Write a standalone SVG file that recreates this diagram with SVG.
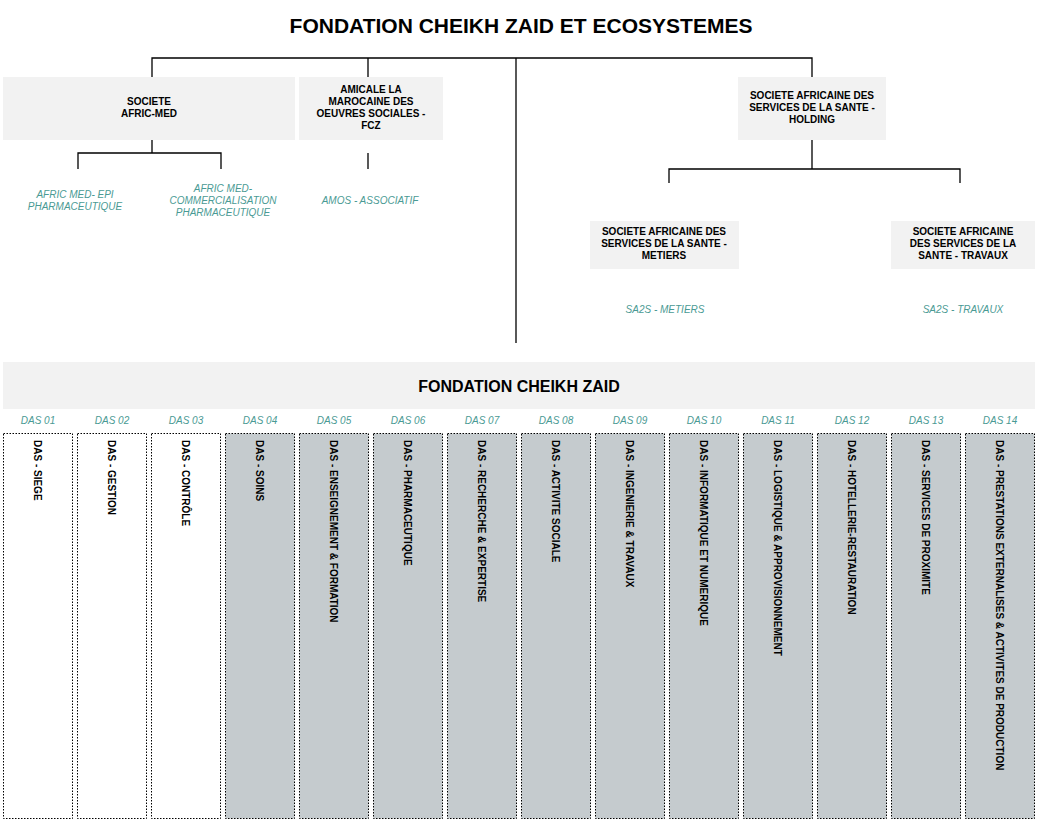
<svg xmlns="http://www.w3.org/2000/svg" width="1041" height="825" viewBox="0 0 1041 825">
<style>
.box{fill:#f2f2f2}
.bt{font-family:"Liberation Sans",Arial,sans-serif;font-size:10px;font-weight:bold;text-anchor:middle;fill:#000}
.it{font-family:"Liberation Sans",Arial,sans-serif;font-size:10px;font-style:italic;text-anchor:middle;fill:#4a9a94}
.ln{stroke:#000;stroke-width:1.3;fill:none}
.col{stroke:#000;stroke-width:1;stroke-dasharray:1.5,1.5}
.w{fill:#fff}.g{fill:#c5cbce}
.vt{font-family:"Liberation Sans",Arial,sans-serif;font-size:10px;font-weight:bold;fill:#000}
</style>
<rect width="1041" height="825" fill="#fff"/>
<text x="521" y="33" font-family="Liberation Sans,Arial,sans-serif" font-size="21" font-weight="bold" text-anchor="middle">FONDATION CHEIKH ZAID ET ECOSYSTEMES</text>
<g id="connectors">
<path class="ln" d="M152 77V58H812V77M368 58V77M516 58V343"/>
<path class="ln" d="M152 140V153M78 169V153H221V169M368 153V169"/>
<path class="ln" d="M812 140V169M669 183V169H960V183"/>
</g>
<g id="africmed"><rect class="box" x="3" y="77" width="292" height="63"/><text class="bt" x="149" y="105">SOCIETE</text><text class="bt" x="149" y="117">AFRIC-MED</text></g>
<g id="amicale"><rect class="box" x="299" y="77" width="144" height="63"/><text class="bt" x="371" y="93">AMICALE LA</text><text class="bt" x="371" y="105">MAROCAINE DES</text><text class="bt" x="371" y="117">OEUVRES SOCIALES -</text><text class="bt" x="371" y="129">FCZ</text></g>
<g id="holding"><rect class="box" x="738" y="77" width="148" height="63"/><text class="bt" x="812" y="99">SOCIETE AFRICAINE DES</text><text class="bt" x="812" y="111">SERVICES DE LA SANTE -</text><text class="bt" x="812" y="123">HOLDING</text></g>
<g id="metiers"><rect class="box" x="590" y="221" width="149" height="48"/><text class="bt" x="664" y="235">SOCIETE AFRICAINE DES</text><text class="bt" x="664" y="247">SERVICES DE LA SANTE -</text><text class="bt" x="664" y="259">METIERS</text></g>
<g id="travaux"><rect class="box" x="891" y="221" width="144" height="48"/><text class="bt" x="963" y="235">SOCIETE AFRICAINE</text><text class="bt" x="963" y="247">DES SERVICES DE LA</text><text class="bt" x="963" y="259">SANTE - TRAVAUX</text></g>
<g id="subs">
<text class="it" x="75" y="198">AFRIC MED- EPI</text><text class="it" x="75" y="210">PHARMACEUTIQUE</text>
<text class="it" x="223" y="192">AFRIC MED-</text><text class="it" x="223" y="204">COMMERCIALISATION</text><text class="it" x="223" y="216">PHARMACEUTIQUE</text>
<text class="it" x="370" y="204">AMOS - ASSOCIATIF</text>
<text class="it" x="665" y="313">SA2S - METIERS</text>
<text class="it" x="963" y="313">SA2S - TRAVAUX</text>
</g>
<g id="fcz"><rect class="box" x="3" y="362" width="1032" height="47"/><text x="519" y="392" font-family="Liberation Sans,Arial,sans-serif" font-size="16" font-weight="bold" text-anchor="middle">FONDATION CHEIKH ZAID</text></g>
<g id="das">
<rect class="col w" x="3.5" y="433.5" width="69" height="385"/>
<rect class="col w" x="77.5" y="433.5" width="69" height="385"/>
<rect class="col w" x="151.5" y="433.5" width="69" height="385"/>
<rect class="col g" x="225.5" y="433.5" width="69" height="385"/>
<rect class="col g" x="299.5" y="433.5" width="69" height="385"/>
<rect class="col g" x="373.5" y="433.5" width="69" height="385"/>
<rect class="col g" x="447.5" y="433.5" width="69" height="385"/>
<rect class="col g" x="521.5" y="433.5" width="69" height="385"/>
<rect class="col g" x="595.5" y="433.5" width="69" height="385"/>
<rect class="col g" x="669.5" y="433.5" width="69" height="385"/>
<rect class="col g" x="743.5" y="433.5" width="69" height="385"/>
<rect class="col g" x="817.5" y="433.5" width="69" height="385"/>
<rect class="col g" x="891.5" y="433.5" width="69" height="385"/>
<rect class="col g" x="965.5" y="433.5" width="69" height="385"/>
<g class="it">
<text x="38" y="424">DAS 01</text><text x="112" y="424">DAS 02</text><text x="186" y="424">DAS 03</text><text x="260" y="424">DAS 04</text><text x="334" y="424">DAS 05</text><text x="408" y="424">DAS 06</text><text x="482" y="424">DAS 07</text><text x="556" y="424">DAS 08</text><text x="630" y="424">DAS 09</text><text x="704" y="424">DAS 10</text><text x="778" y="424">DAS 11</text><text x="852" y="424">DAS 12</text><text x="926" y="424">DAS 13</text><text x="1000" y="424">DAS 14</text>
</g>
<text class="vt" transform="translate(34,440) rotate(90)">DAS - SIEGE</text>
<text class="vt" transform="translate(108,440) rotate(90)">DAS - GESTION</text>
<text class="vt" transform="translate(182,440) rotate(90)">DAS - CONTRÔLE</text>
<text class="vt" transform="translate(256,440) rotate(90)">DAS - SOINS</text>
<text class="vt" transform="translate(330,440) rotate(90)">DAS - ENSEIGNEMENT &amp; FORMATION</text>
<text class="vt" transform="translate(404,440) rotate(90)">DAS - PHARMACEUTIQUE</text>
<text class="vt" transform="translate(478,440) rotate(90)">DAS - RECHERCHE &amp; EXPERTISE</text>
<text class="vt" transform="translate(552,440) rotate(90)">DAS - ACTIVITE SOCIALE</text>
<text class="vt" transform="translate(626,440) rotate(90)">DAS - INGENIERIE &amp; TRAVAUX</text>
<text class="vt" transform="translate(700,440) rotate(90)">DAS - INFORMATIQUE ET NUMERIQUE</text>
<text class="vt" transform="translate(774,440) rotate(90)">DAS - LOGISTIQUE &amp; APPROVISIONNEMENT</text>
<text class="vt" transform="translate(848,440) rotate(90)">DAS - HOTELLERIE-RESTAURATION</text>
<text class="vt" transform="translate(922,440) rotate(90)">DAS - SERVICES DE PROXIMITE</text>
<text class="vt" transform="translate(996,440) rotate(90)">DAS - PRESTATIONS EXTERNALISES &amp; ACTIVITES DE PRODUCTION</text>
</g>
</svg>
